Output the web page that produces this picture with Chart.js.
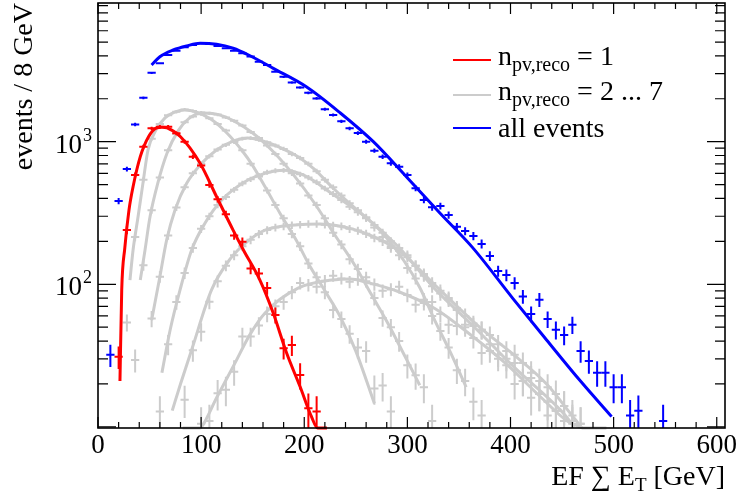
<!DOCTYPE html>
<html>
<head>
<meta charset="utf-8">
<title>EF sum ET per number of primary vertices</title>
<script src="https://cdn.jsdelivr.net/npm/chart.js@4.4.0/dist/chart.umd.min.js"></script>
<style>
  html, body { margin: 0; padding: 0; background: #ffffff; }
  #wrap { width: 738px; height: 498px; }
</style>
</head>
<body>
<div id="wrap"><canvas id="chart" width="738" height="498"></canvas></div>
<script>
// etSumChart - EF sum ET spectra split by number of reconstructed vertices

// Axis ranges and tick labels
const X_MIN = 0, X_MAX = 608;
const Y_MIN = 9.82, Y_MAX = 9390;
const xTickLabels = [0, 100, 200, 300, 400, 500, 600];
const yTickLabels = [100, 1000];

// Histogram bins are 8 GeV wide; each series = centre of first bin + counts
const BIN_WIDTH = 8;

const allStart = 12;
const allCounts = [32, 384, 643, 1320, 2030, 3040, 3550, 4050, 4350, 4590, 4760, 4900,
  4840, 4690, 4520, 4340, 4170, 3950, 3640, 3450, 3100, 2850, 2600, 2400, 2200, 2010,
  1690, 1540, 1390, 1240, 1150, 1000, 865, 785, 706, 668, 584, 471, 390, 347, 354, 306,
  253, 236, 218, 192, 158, 124, 116, 102, 82, 62, 78, 57, 48, 44, 52, 34, 29, 24, 24,
  19, 19, 12, 13, null, null, 11];

const npv1Start = 20;
const npv1Counts = [31, 240, 584, 922, 1240, 1274, 1274, 1144, 1000, 785, 680, 497, 395,
  310, 220, 199, 129, 119, 94, 61, 35.6, 37.5, 23.1, 13.5, 12.8];

const npv2Start = 28;
const npv2Counts = [54, 215, 540, 1050, 1330, 1530, 1620, 1680, 1640, 1560, 1460, 1330,
  1200, 1000, 870, 700, 570, 455, 360, 290, 225, 185, 140, 112, 88, 66, 57, 45, 36, 34,
  18.6, 19.5, 12.8];

const npv3Start = 36;
const npv3Counts = [29.5, 136, 330, 560, 870, 1130, 1370, 1500, 1600, 1580, 1550, 1480,
  1400, 1300, 1170, 1060, 940, 820, 700, 600, 510, 420, 360, 290, 230, 190, 150, 128, 105,
  80, 58, 50, 40, 27, 23, 19, 11];

const npv4Start = 52;
const npv4Counts = [57.5, 113, 220, 345, 480, 600, 700, 790, 880, 950, 1000, 1050, 1060,
  1030, 990, 940, 890, 820, 770, 700, 620, 540, 480, 420, 370, 330, 290, 250, 215, 180,
  160, 130, 110, 78, 60, 47, 36, 25, 21, 15, 12];

const npv5Start = 60;
const npv5Counts = [12.8, 38, 75, 120, 180, 245, 300, 360, 410, 460, 510, 545, 580, 610,
  625, 630, 615, 590, 560, 520, 470, 430, 390, 350, 320, 295, 260, 230, 200, 180, 160,
  135, 115, 97, 86, 80, 66, 52, 51, 48, 38, 30, 30, 28, 21, 16, 17, 15, 13, 11, 10.5];

const npv6Start = 84;
const npv6Counts = [15.5, 34.5, 46.5, 75.5, 105, 135, 160, 185, 205, 225, 240, 250, 255,
  260, 262, 265, 265, 262, 258, 255, 245, 238, 226, 212, 200, 185, 172, 155, 135, 118,
  102, 90, 78, 68, 60, 53, 48, 44, 38, 34, 32, 28, 24, 21, 19, 17, 14, 12, 10.5];

const npv7Start = 100;
const npv7Counts = [10.5, 11, 17.2, 18.2, 24.4, 43, 43, 51.5, 62, 70, 75, 88, 102, 99, 96,
  106, 115, 110, 104, 108, 112, 100, 90, 92, 96, 84, 72, 74, 75, 62, 52, 51, 50, 42, 33,
  34, 32, 27, 20, 21, 22, 17, 12, 13, 14, 11, 10.5];

// Fitted curves (x in GeV, y in events)
const allFitX = [52, 60, 73, 86, 99, 115, 131, 146, 170, 202, 235, 267, 299, 331.5, 363.5, 402, 435, 467, 498];
const allFitY = [3450, 3945, 4395, 4690, 4900, 4820, 4520, 4055, 3270, 2430, 1590, 1000, 568, 316, 180, 80, 40.7, 21.3, 11.8];

const npv1FitX = [21.3, 23, 26, 30, 34, 41, 49, 57, 62, 67, 80, 99, 115, 131, 141, 157, 170, 183, 196, 207, 213, 222];
const npv1FitY = [21, 91, 180, 330, 483, 785, 1084, 1250, 1265, 1250, 1084, 706, 411, 240, 174, 107, 62.6, 32.8, 19.1, 11.8, 9.82, 9.82];

const npv2FitX = [31, 34, 38.8, 43.6, 48.5, 56, 65, 75, 84, 95, 110, 125, 140, 150, 162, 177, 192, 204, 220, 235, 250, 268];
const npv2FitY = [107, 174, 296, 512, 875, 1200, 1470, 1620, 1670, 1620, 1430, 1150, 860, 680, 483, 310, 205, 140, 90, 59, 34, 14.6];

const npv3FitX = [41, 45.6, 50.4, 58, 67, 78, 88, 100, 115, 130, 150, 170, 190, 210, 230, 249, 265, 280, 296, 312];
const npv3FitY = [107, 174, 296, 512, 833, 1200, 1450, 1590, 1560, 1420, 1150, 850, 580, 370, 220, 136, 85, 55, 33, 19.6];

const npv4FitX = [52, 60, 66.6, 74.6, 86, 100.5, 115, 130, 145, 162, 178, 194, 210, 226.6, 242, 259, 278, 297, 312, 327, 342, 357];
const npv4FitY = [56, 113, 205, 331, 511, 705, 875, 1000, 1060, 1000, 900, 785, 640, 483, 380, 298, 220, 145, 95, 55, 33, 19];

const npv5FitX = [62, 70, 79.5, 90.8, 103.7, 120, 142.5, 162, 180, 200, 226.6, 259, 291, 326, 365, 404, 449, 462];
const npv5FitY = [24, 48, 91, 174, 268, 390, 524, 600, 630, 580, 434, 298, 184, 94, 50, 26, 13, 10];

const npv6FitX = [72, 80, 91, 110, 128, 145, 162, 194, 215, 235, 259, 291, 326, 370, 401, 435, 464, 470, 493];
const npv6FitY = [13, 20, 35, 91, 150, 200, 240, 262, 265, 255, 228, 174, 100, 50, 33, 20, 11, 9.82, 9.82];

const npv7FitX = [82, 99, 100.5, 115, 132.8, 147, 162, 194, 226.6, 245, 259, 291, 326.6, 360, 395, 430, 455, 470];
const npv7FitY = [9.82, 9.82, 10, 16, 28, 44, 63, 94, 107, 109, 104, 89, 67.6, 45, 28, 16, 11, 9.82];

// Colours
const RED = "#ff0000";
const BLUE = "#0000ff";
const GREY = "#cccccc";
const FONT = '"Liberation Serif", "Times New Roman", serif';

// Build one curve dataset, carrying its histogram along
function makeSeries(fitX, fitY, start, counts, color) {
  return {
    data: fitX.map((x, i) => ({ x: x, y: fitY[i] })),
    borderColor: color,
    borderWidth: 3,
    pointRadius: 0,
    fill: false,
    cubicInterpolationMode: "monotone",
    clip: false,
    histStart: start,
    histCounts: counts,
  };
}

// Draws the histogram points (bin-width bar + sqrt(N) error bar) under each curve
const histPlugin = {
  id: "histCrosses",
  beforeDatasetDraw(chart, args) {
    const ds = chart.data.datasets[args.index];
    if (!ds.histCounts) return;
    const { ctx, chartArea: a } = chart;
    const xs = chart.scales.x, ys = chart.scales.y;
    ctx.save();
    ctx.beginPath();
    ctx.rect(a.left, a.top, a.right - a.left, a.bottom - a.top);
    ctx.clip();
    ctx.strokeStyle = ds.borderColor;
    ctx.lineWidth = 2;
    ds.histCounts.forEach((n, i) => {
      if (n == null) return;
      const c = ds.histStart + BIN_WIDTH * i;
      const err = Math.sqrt(n);
      const px = xs.getPixelForValue(c);
      const py = ys.getPixelForValue(n);
      const yHi = ys.getPixelForValue(n + err);
      const yLo = n - err > 0 ? ys.getPixelForValue(n - err) : a.bottom + 5;
      ctx.beginPath();
      ctx.moveTo(xs.getPixelForValue(c - BIN_WIDTH / 2), py);
      ctx.lineTo(xs.getPixelForValue(c + BIN_WIDTH / 2), py);
      ctx.moveTo(px, yHi);
      ctx.lineTo(px, yLo);
      ctx.stroke();
    });
    ctx.restore();
  },
};

// Draw a run of text pieces (for sub/superscripts) starting at x
function drawPieces(ctx, pieces, x, baseline) {
  let cx = x;
  pieces.forEach((p) => {
    ctx.font = p.size + "px " + FONT;
    ctx.fillText(p.text, cx, baseline + (p.dy || 0));
    cx += ctx.measureText(p.text).width;
  });
  return cx;
}

function piecesWidth(ctx, pieces) {
  let w = 0;
  pieces.forEach((p) => {
    ctx.font = p.size + "px " + FONT;
    w += ctx.measureText(p.text).width;
  });
  return w;
}

// ROOT-like frame: inward ticks on all four sides, labels, titles, legend
const framePlugin = {
  id: "rootFrame",
  afterDraw(chart) {
    const { ctx, chartArea: a } = chart;
    const xs = chart.scales.x, ys = chart.scales.y;
    ctx.save();
    ctx.strokeStyle = "#000";
    ctx.fillStyle = "#000";

    // ticks
    ctx.lineWidth = 1.2;
    ctx.beginPath();
    for (let v = X_MIN; v <= X_MAX; v += 20) {
      const px = xs.getPixelForValue(v);
      const len = v % 100 === 0 ? 11 : 6;
      ctx.moveTo(px, a.bottom);
      ctx.lineTo(px, a.bottom - len);
      ctx.moveTo(px, a.top);
      ctx.lineTo(px, a.top + len);
    }
    for (let d = 10; d < Y_MAX; d *= 10) {
      for (let m = 1; m <= 9; m++) {
        const v = d * m;
        if (v < Y_MIN || v > Y_MAX) continue;
        const py = ys.getPixelForValue(v);
        const len = m === 1 ? 18 : 10;
        ctx.moveTo(a.left, py);
        ctx.lineTo(a.left + len, py);
        ctx.moveTo(a.right, py);
        ctx.lineTo(a.right - len, py);
      }
    }
    ctx.stroke();

    // frame
    ctx.lineWidth = 1.6;
    ctx.strokeRect(a.left, a.top, a.right - a.left, a.bottom - a.top);

    // x tick labels
    ctx.font = "27px " + FONT;
    ctx.textAlign = "center";
    ctx.textBaseline = "alphabetic";
    xTickLabels.forEach((v) => {
      ctx.fillText(String(v), xs.getPixelForValue(v), a.bottom + 25);
    });

    // y tick labels, 10^n
    ctx.textAlign = "left";
    yTickLabels.forEach((v) => {
      const py = ys.getPixelForValue(v);
      const exp = String(Math.round(Math.log10(v)));
      ctx.font = "27px " + FONT;
      const w = ctx.measureText("10").width;
      ctx.fillText("10", a.left - 16 - w, py + 11);
      ctx.font = "18px " + FONT;
      ctx.fillText(exp, a.left - 15, py - 1);
    });

    // x title, right aligned to the frame
    const xTitle = [
      { text: "EF ", size: 28 },
      { text: "\u2211", size: 28 },
      { text: " E", size: 28 },
      { text: "T", size: 19, dy: 6 },
      { text: " [GeV]", size: 28 },
    ];
    drawPieces(ctx, xTitle, a.right - piecesWidth(ctx, xTitle), 485);

    // y title, rotated, right aligned to the top of the frame
    ctx.save();
    ctx.translate(32, a.top);
    ctx.rotate(-Math.PI / 2);
    ctx.font = "28px " + FONT;
    ctx.textAlign = "right";
    ctx.fillText("events / 8 GeV", 0, 0);
    ctx.restore();

    // legend
    const rows = [
      { color: RED, lineY: 60, base: 65, pieces: [{ text: "n", size: 28 }, { text: "pv,reco", size: 20, dy: 6 }, { text: " = 1", size: 28 }] },
      { color: GREY, lineY: 95, base: 100, pieces: [{ text: "n", size: 28 }, { text: "pv,reco", size: 20, dy: 6 }, { text: " = 2 ... 7", size: 28 }] },
      { color: BLUE, lineY: 128, base: 137, pieces: [{ text: "all events", size: 28 }] },
    ];
    rows.forEach((r) => {
      ctx.strokeStyle = r.color;
      ctx.lineWidth = 2;
      ctx.beginPath();
      ctx.moveTo(453, r.lineY);
      ctx.lineTo(491, r.lineY);
      ctx.stroke();
      ctx.fillStyle = "#000";
      drawPieces(ctx, r.pieces, 498, r.base);
    });
    ctx.restore();
  },
};

// Initialise the chart
function initChart() {
  const ctx = document.getElementById("chart").getContext("2d");
  // dataset 0 is drawn last (on top)
  const datasets = [
    makeSeries(allFitX, allFitY, allStart, allCounts, BLUE),
    makeSeries(npv1FitX, npv1FitY, npv1Start, npv1Counts, RED),
    makeSeries(npv2FitX, npv2FitY, npv2Start, npv2Counts, GREY),
    makeSeries(npv3FitX, npv3FitY, npv3Start, npv3Counts, GREY),
    makeSeries(npv4FitX, npv4FitY, npv4Start, npv4Counts, GREY),
    makeSeries(npv5FitX, npv5FitY, npv5Start, npv5Counts, GREY),
    makeSeries(npv6FitX, npv6FitY, npv6Start, npv6Counts, GREY),
    makeSeries(npv7FitX, npv7FitY, npv7Start, npv7Counts, GREY),
  ];

  new Chart(ctx, {
    type: "line",
    data: { datasets: datasets },
    options: {
      responsive: false,
      animation: false,
      devicePixelRatio: 1,
      layout: { padding: { top: 3, right: 13, left: 0, bottom: 0 } },
      plugins: { legend: { display: false }, tooltip: { enabled: false } },
      scales: {
        x: {
          type: "linear",
          min: X_MIN,
          max: X_MAX,
          grid: { display: false, drawTicks: false },
          border: { display: false },
          ticks: { display: false },
          afterFit: (s) => { s.height = 70; },
        },
        y: {
          type: "logarithmic",
          min: Y_MIN,
          max: Y_MAX,
          grid: { display: false, drawTicks: false },
          border: { display: false },
          ticks: { display: false },
          afterFit: (s) => { s.width = 98; },
        },
      },
    },
    plugins: [histPlugin, framePlugin],
  });
}

document.addEventListener("DOMContentLoaded", initChart);
</script>
</body>
</html>
